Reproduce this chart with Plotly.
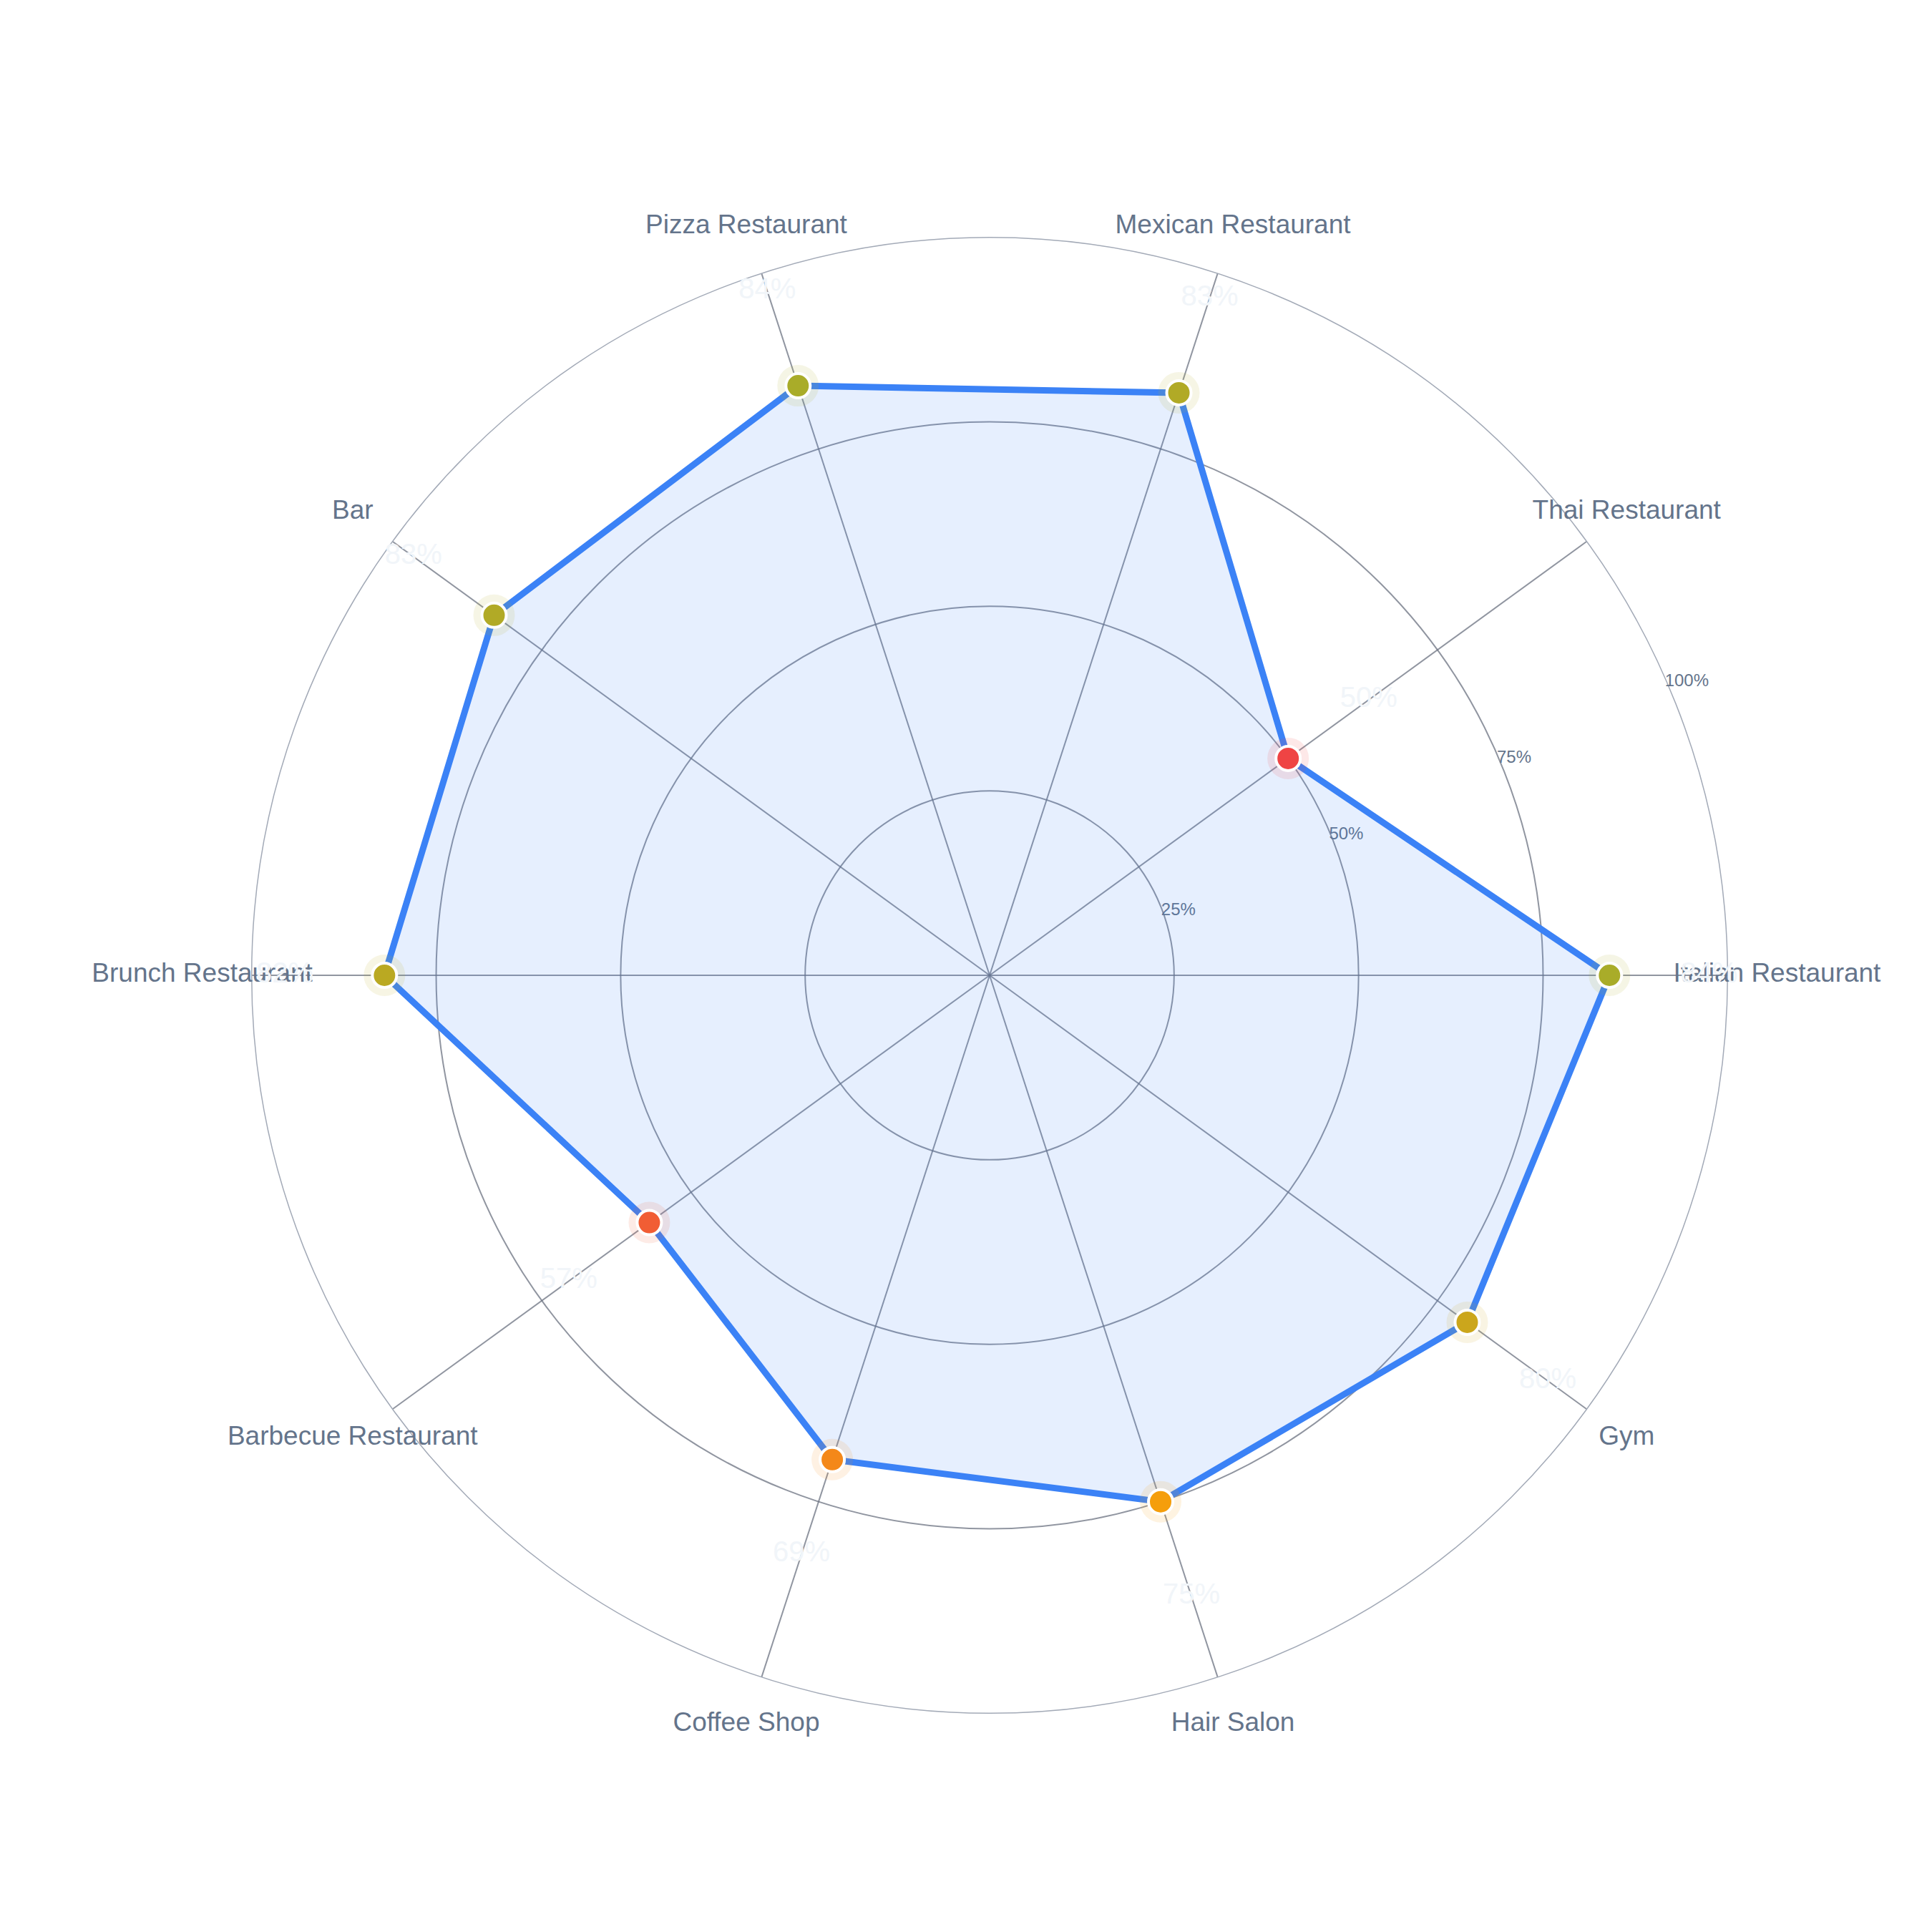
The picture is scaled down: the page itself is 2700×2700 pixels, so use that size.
import plotly.graph_objects as go

# category scores (percent)
categories = ["Italian Restaurant", "Thai Restaurant", "Mexican Restaurant", "Pizza Restaurant",
              "Bar", "Brunch Restaurant", "Barbecue Restaurant", "Coffee Shop", "Hair Salon", "Gym"]
scores = [84, 50, 83, 84, 83, 82, 57, 69, 75, 80]
radial_ticks = [25, 50, 75, 100]

score_scale = [[0.0, "#ef4444"], [0.5, "#f59e0b"], [1.0, "#22c55e"]]
FONT = "Liberation Sans, Arial, Helvetica, sans-serif"

# the label overlay polar is this much larger than the data polar
OUTER = 1.15
R_PX = 1038
CX, CY = 1383, 1363
RADIAL_ANGLE = 24.5

theta_closed = categories + categories[:1]
r_closed = scores + scores[:1]

fig = go.Figure()

# outline + fill
fig.add_trace(go.Scatterpolar(
    r=r_closed, theta=theta_closed, mode="lines", fill="toself",
    fillcolor="rgba(59,130,246,0.13)",
    line=dict(color="#3b82f6", width=9),
    hoverinfo="skip",
))

# soft halo behind points
fig.add_trace(go.Scatterpolar(
    r=scores, theta=categories, mode="markers",
    marker=dict(size=58, color=scores, colorscale=score_scale, cmin=50, cmax=100,
                opacity=0.12, line=dict(width=0)),
    hoverinfo="skip",
))

# points
fig.add_trace(go.Scatterpolar(
    r=scores, theta=categories, mode="markers",
    marker=dict(size=34, color=scores, colorscale=score_scale, cmin=50, cmax=100,
                line=dict(color="white", width=4)),
))

# category names, centred just outside the outer ring (on the larger overlay polar)
fig.add_trace(go.Scatterpolar(
    r=[106.7 / OUTER] * len(categories), theta=categories, mode="text",
    text=categories, textposition="middle center",
    textfont=dict(size=37, color="#64748b", family=FONT),
    hoverinfo="skip", subplot="polar2",
))

# value labels just outside each point
fig.add_trace(go.Scatterpolar(
    r=[(v + 13.5) / OUTER for v in scores], theta=categories, mode="text",
    text=[f"{v}%" for v in scores], textposition="middle center",
    textfont=dict(size=40, color="#f1f5f9", family=FONT),
    hoverinfo="skip", subplot="polar2",
))

r2 = R_PX * OUTER
ml, mr = CX - r2, 2700 - (CX + r2)
mt, mb = CY - r2, 2700 - (CY + r2)
inner = [(OUTER - 1) / 2 / OUTER, 1 - (OUTER - 1) / 2 / OUTER]

fig.update_layout(
    showlegend=False,
    paper_bgcolor="white",
    plot_bgcolor="white",
    font=dict(family=FONT, color="#64748b"),
    margin=dict(l=ml, r=mr, t=mt, b=mb),
    polar=dict(
        domain=dict(x=inner, y=inner),
        bgcolor="white",
        radialaxis=dict(
            range=[0, 100], tickmode="array", tickvals=radial_ticks,
            ticktext=[f"{t}%" for t in radial_ticks],
            angle=RADIAL_ANGLE, side="clockwise", tickangle=RADIAL_ANGLE,
            showline=False, ticks="",
            gridcolor="rgba(107,114,128,0.75)", gridwidth=2,
            tickfont=dict(size=24, color="#64748b"),
            layer="below traces",
        ),
        angularaxis=dict(
            rotation=0, direction="counterclockwise",
            categoryorder="array", categoryarray=categories,
            showline=True, linecolor="#a3aab7", linewidth=1.5,
            gridcolor="rgba(107,114,128,0.75)", gridwidth=2,
            ticks="", showticklabels=False,
            layer="below traces",
        ),
    ),
    polar2=dict(
        domain=dict(x=[0, 1], y=[0, 1]),
        bgcolor="rgba(0,0,0,0)",
        radialaxis=dict(range=[0, 100], visible=False),
        angularaxis=dict(
            rotation=0, direction="counterclockwise",
            categoryorder="array", categoryarray=categories,
            visible=False,
        ),
    ),
)

fig.write_html("out.html")
